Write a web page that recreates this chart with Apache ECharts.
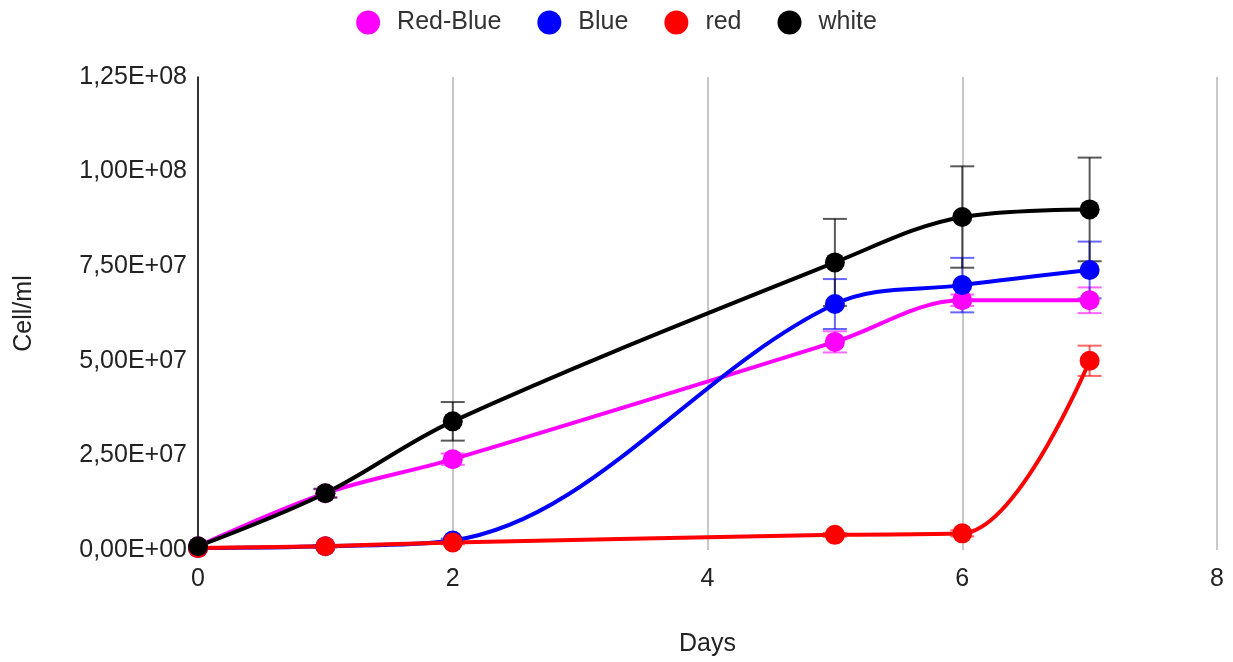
<!DOCTYPE html>
<html>
<head>
<meta charset="utf-8">
<title>Cell growth</title>
<script src="https://cdn.jsdelivr.net/npm/echarts@6/dist/echarts.min.js"></script>
<style>
  html, body { margin: 0; padding: 0; background: #fff; }
  #chart { width: 1233px; height: 662px; }
</style>
</head>
<body>
<div id="chart"></div>
<script>
const days = [0, 1, 2, 5, 6, 7]

const redBlue = [1.0e6, 1.5e7, 2.4e7, 5.5e7, 6.6e7, 6.6e7]
const redBlueErr = [0, 1.0e6, 1.5e6, 2.8e6, 1.5e6, 3.4e6]

const blue = [0.5e6, 1.0e6, 2.5e6, 6.5e7, 7.0e7, 7.4e7]
const blueErr = [0, 0.3e6, 0.5e6, 6.6e6, 7.2e6, 7.5e6]

const red = [0.5e6, 1.0e6, 2.0e6, 4.0e6, 4.4e6, 5.0e7]
const redErr = [0, 0.3e6, 0.5e6, 0.5e6, 0.8e6, 4.0e6]

const white = [1.0e6, 1.5e7, 3.4e7, 7.6e7, 8.8e7, 9.0e7]
const whiteErr = [0, 1.2e6, 5.1e6, 11.5e6, 13.4e6, 13.7e6]

const seriesDefs = [
  { name: 'Red-Blue', color: '#ff00ff', errColor: 'rgba(255,0,255,0.6)', values: redBlue, errs: redBlueErr },
  { name: 'Blue', color: '#0000ff', errColor: 'rgba(0,0,255,0.6)', values: blue, errs: blueErr },
  { name: 'red', color: '#ff0000', errColor: 'rgba(255,0,0,0.6)', values: red, errs: redErr },
  { name: 'white', color: '#000000', errColor: 'rgba(0,0,0,0.65)', values: white, errs: whiteErr }
]

// format like 1,25E+08
function sci(v) {
  const parts = v.toExponential(2).split('e')
  let exp = parseInt(parts[1], 10)
  const sign = exp < 0 ? '-' : '+'
  exp = Math.abs(exp)
  return parts[0].replace('.', ',') + 'E' + sign + (exp < 10 ? '0' + exp : exp)
}

function errorBarRender(color) {
  return function(params, api) {
    const x = api.value(0)
    const top = api.coord([x, api.value(2)])
    const bot = api.coord([x, api.value(1)])
    const half = 12
    const style = { stroke: color, lineWidth: 2, fill: null }
    return {
      type: 'group',
      children: [
        { type: 'line', shape: { x1: top[0], y1: top[1], x2: bot[0], y2: bot[1] }, style },
        { type: 'line', shape: { x1: top[0] - half, y1: top[1], x2: top[0] + half, y2: top[1] }, style },
        { type: 'line', shape: { x1: bot[0] - half, y1: bot[1], x2: bot[0] + half, y2: bot[1] }, style }
      ]
    }
  }
}

const series = []
seriesDefs.forEach(function(s) {
  series.push({
    name: s.name,
    type: 'line',
    smooth: 0.35,
    symbol: 'circle',
    symbolSize: 20,
    lineStyle: { width: 4, color: s.color },
    itemStyle: { color: s.color },
    data: days.map(function(d, i) { return [d, s.values[i]] })
  })
  series.push({
    name: s.name + ' err',
    type: 'custom',
    renderItem: errorBarRender(s.errColor),
    encode: { x: 0, y: [1, 2] },
    data: days
      .map(function(d, i) { return [d, s.values[i] - s.errs[i], s.values[i] + s.errs[i]] })
      .filter(function(r) { return r[2] > r[1] }),
    silent: true,
    z: 3
  })
})

const chart = echarts.init(document.getElementById('chart'))
chart.setOption({
  animation: false,
  textStyle: { fontFamily: 'Liberation Sans, Arial, sans-serif' },
  legend: {
    data: seriesDefs.map(function(s) { return s.name }),
    top: 5,
    left: 'center',
    icon: 'circle',
    itemWidth: 24,
    itemHeight: 24,
    itemGap: 36,
    textStyle: { fontSize: 25, color: '#333', padding: [0, 0, 0, 12] }
  },
  grid: { left: 198, right: 16, top: 77, bottom: 111 },
  xAxis: {
    type: 'value',
    min: 0,
    max: 8,
    interval: 2,
    name: 'Days',
    nameLocation: 'middle',
    nameGap: 82,
    nameTextStyle: { fontSize: 25, color: '#222' },
    axisLine: { show: false },
    axisTick: { show: false },
    axisLabel: { fontSize: 25, color: '#222', margin: 17 },
    splitLine: { show: true, lineStyle: { color: '#c8c8c8', width: 2 } }
  },
  yAxis: {
    type: 'value',
    min: 0,
    max: 1.25e8,
    interval: 2.5e7,
    name: 'Cell/ml',
    nameLocation: 'middle',
    nameGap: 161,
    nameTextStyle: { fontSize: 25, color: '#222' },
    axisLine: { show: true, lineStyle: { color: '#000', width: 1.5 } },
    axisTick: { show: false },
    axisLabel: { fontSize: 25, color: '#222', margin: 11, formatter: sci },
    splitLine: { show: false }
  },
  series: series
})
</script>
</body>
</html>
